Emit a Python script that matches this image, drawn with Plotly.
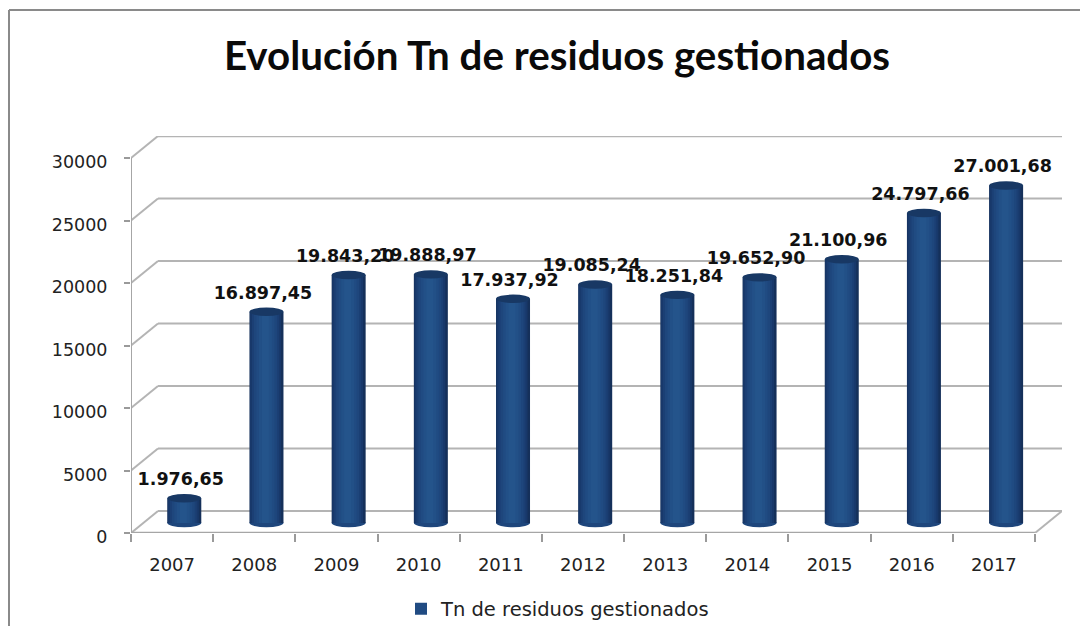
import plotly.graph_objects as go

years = ["2007", "2008", "2009", "2010", "2011", "2012", "2013", "2014", "2015", "2016", "2017"]
values = [1976.65, 16897.45, 19843.20, 19888.97, 17937.92, 19085.24, 18251.84, 19652.90, 21100.96, 24797.66, 27001.68]
labels = ["1.976,65", "16.897,45", "19.843,20", "19.888,97", "17.937,92", "19.085,24",
          "18.251,84", "19.652,90", "21.100,96", "24.797,66", "27.001,68"]
y_ticks = [0, 5000, 10000, 15000, 20000, 25000, 30000]
series_name = "Tn de residuos gestionados"
# nested shading of the cylinder, outermost first
shade_colors = ["#15305a", "#18386a", "#1b3f74", "#1e467c", "#204b82", "#225087", "#24548b"]
shade_widths = [34, 31, 27, 23, 18, 13, 7]

# the page body has an 8px margin, so figure pixels = page pixels - 8
PAGE = 8
L, R, T, B = 131 - PAGE, 1062 - PAGE, 136 - PAGE, 533 - PAGE
W_FULL, H_FULL = 1088 - PAGE, 626 - PAGE
px_x = 904 / 11          # px per category
px_y = 375 / 30000       # px per unit
dx = (R - L - 904) / px_x     # 3D depth in x units
dy = (B - T - 375) / px_y     # 3D depth in y units
bar_dx = 12.2 / px_x     # bar centre shift
bar_dy = 10 / px_y       # bar base shift
bar_w = 34 / px_x
cap_h = 4.2 / px_y
n = len(years)
centers = [i + 0.5 + bar_dx for i in range(n)]

fig = go.Figure()
for k, (col, w) in enumerate(zip(shade_colors, shade_widths)):
    shift = -1.0 / px_x if k else 0
    fig.add_trace(go.Bar(
        x=[c + shift for c in centers],
        y=values, base=[bar_dy] * n, width=w / px_x,
        marker=dict(color=col, line=dict(width=0)),
        name=series_name, showlegend=(k == 4), hoverinfo="skip"))

fig.add_trace(go.Scatter(
    x=[c - 3.5 / px_x for c in centers],
    y=[v + bar_dy + 17.5 / px_y for v in values],
    text=labels, mode="text", textposition="middle center",
    textfont=dict(family="DejaVu Sans", size=17.5, color="#111111", weight="bold"),
    showlegend=False, cliponaxis=False, hoverinfo="skip"))

shapes = []
GRID = "#b4b4b4"
# back wall and left wall grid
for v in y_ticks:
    shapes.append(dict(type="line", x0=dx, x1=n + dx, y0=v + dy, y1=v + dy, xref="x", yref="y",
                       line=dict(color=GRID, width=2.5 if v == y_ticks[-1] else 2), layer="below"))
    shapes.append(dict(type="line", x0=0, x1=dx, y0=v, y1=v + dy, xref="x", yref="y",
                       line=dict(color=GRID, width=2), layer="below"))
# floor edges and axis lines
shapes.append(dict(type="line", x0=0, x1=n, y0=0, y1=0, xref="x", yref="y",
                   line=dict(color="#a6a6a6", width=2.5), layer="below"))
shapes.append(dict(type="line", x0=n, x1=n + dx, y0=0, y1=dy, xref="x", yref="y",
                   line=dict(color=GRID, width=2), layer="below"))
shapes.append(dict(type="line", x0=0, x1=0, y0=0, y1=y_ticks[-1], xref="x", yref="y",
                   line=dict(color="#a6a6a6", width=2), layer="below"))
# cylinder caps
for c, v in zip(centers, values):
    shapes.append(dict(type="circle", x0=c - bar_w / 2, x1=c + bar_w / 2,
                       y0=bar_dy - cap_h, y1=bar_dy + cap_h, xref="x", yref="y",
                       fillcolor="#1e467c", line=dict(width=0), layer="below"))
    shapes.append(dict(type="circle", x0=c - bar_w / 2, x1=c + bar_w / 2,
                       y0=bar_dy + v - cap_h, y1=bar_dy + v + cap_h, xref="x", yref="y",
                       fillcolor="#183864", line=dict(width=0), layer="above"))
# outer frame
fx = lambda p: (p - PAGE - L) / (R - L)
fy = lambda p: (B - (p - PAGE)) / (B - T)
shapes.append(dict(type="line", xref="paper", yref="paper", x0=fx(9), x1=fx(9), y0=fy(10), y1=fy(626),
                   line=dict(color="#8a8a8a", width=2)))
shapes.append(dict(type="line", xref="paper", yref="paper", x0=fx(9), x1=fx(1088), y0=fy(10), y1=fy(10),
                   line=dict(color="#8a8a8a", width=2)))

fig.update_layout(
    width=W_FULL, height=H_FULL, autosize=False,
    margin=dict(l=L, r=W_FULL - R, t=T, b=H_FULL - B, autoexpand=False),
    paper_bgcolor="white", plot_bgcolor="white",
    barmode="overlay", shapes=shapes,
    font=dict(family="DejaVu Sans", size=18, color="#222222"),
    title=dict(text="Evolución Tn de residuos gestionados", xref="container", yref="container",
               x=(557 - PAGE) / W_FULL, xanchor="center", y=1 - (56 - PAGE) / H_FULL, yanchor="middle",
               font=dict(family="Lato", size=40.3, color="#0a0a0a", weight="bold")),
    legend=dict(orientation="h", xref="paper", yref="paper", x=fx(558), xanchor="center",
                y=fy(609), yanchor="middle", font=dict(family="DejaVu Sans", size=19.5, color="#222222"),
                bgcolor="rgba(0,0,0,0)", itemclick=False, itemdoubleclick=False),
    xaxis=dict(range=[0, n + dx], tickmode="array", tickvals=[i + 0.5 for i in range(n)], ticktext=years,
               ticks="", showgrid=False, zeroline=False, showline=False, ticklabelstandoff=19,
               minor=dict(tickmode="array", tickvals=list(range(n + 1)), ticks="outside", ticklen=8,
                          tickwidth=1.5, tickcolor="#9a9a9a", showgrid=False)),
    yaxis=dict(range=[0, (B - T) / px_y], tickmode="array", tickvals=y_ticks, ticktext=[str(v) for v in y_ticks],
               tickfont=dict(size=17.5), ticks="outside", ticklen=6, tickwidth=1.5, tickcolor="#9a9a9a",
               showgrid=False, zeroline=False, showline=False, ticklabelstandoff=13, ticklabelshift=4),
)
fig.write_html("out.html")
